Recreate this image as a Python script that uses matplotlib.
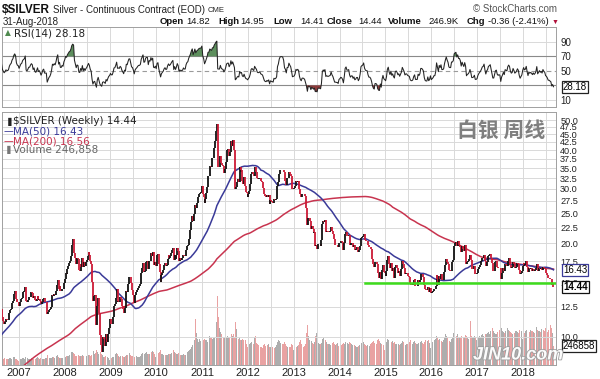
import numpy as np
import pandas as pd
import matplotlib
matplotlib.use("Agg")
import matplotlib.pyplot as plt
import matplotlib.dates as mdates
import matplotlib.patheffects as pe

plt.rcParams['font.family'] = ['Liberation Sans', 'DejaVu Sans']

# weekly closes (Friday), one list per calendar year
c2003 = [4.82, 4.78, 4.88, 4.80, 4.72, 4.62, 4.60, 4.65, 4.58, 4.50, 4.45, 4.40, 4.42,
         4.50, 4.55, 4.62, 4.60, 4.75, 4.80, 4.62, 4.52, 4.55, 4.48, 4.60, 4.55, 4.52,
         4.62, 4.85, 5.00, 5.15, 5.05, 4.98, 5.10, 5.20, 5.05, 4.95, 5.15, 5.05, 5.10,
         5.02, 4.95, 5.00, 5.10, 5.12, 5.20, 5.25, 5.35, 5.45, 5.60, 5.75, 5.85, 5.95]
c2004 = [6.20, 6.35, 6.28, 6.30, 6.38, 6.55, 6.70, 6.85, 7.15, 7.30, 7.40, 7.55, 7.90,
         8.10, 7.60, 7.05, 6.50, 6.15, 5.80, 5.95, 6.05, 6.10, 5.95, 5.90, 6.05, 5.92,
         6.20, 6.45, 6.60, 6.55, 6.65, 6.80, 6.72, 6.60, 6.45, 6.35, 6.50, 6.30, 6.90,
         7.10, 7.25, 7.15, 7.25, 7.40, 7.45, 7.60, 7.55, 7.35, 6.90, 6.80, 6.75, 6.80, 6.82]
c2005 = [6.60, 6.50, 6.70, 6.65, 6.80, 7.00, 7.35, 7.30, 7.45, 7.25, 7.15, 7.10, 7.10,
         7.00, 7.05, 6.95, 7.05, 6.90, 7.10, 7.15, 7.35, 7.40, 7.35, 7.30, 7.25, 7.05,
         7.05, 6.95, 7.10, 7.15, 7.00, 6.95, 6.85, 6.80, 6.90, 7.05, 7.20, 7.35, 7.45,
         7.55, 7.60, 7.65, 7.70, 7.75, 7.85, 8.10, 8.30, 8.45, 8.60, 8.80, 8.70, 8.90]
c2006 = [9.15, 9.30, 9.65, 9.80, 9.70, 9.55, 9.40, 9.75, 9.90, 10.20, 10.60, 10.55, 11.40,
         11.80, 12.60, 13.50, 13.40, 13.60, 14.30, 13.60, 12.60, 12.40, 11.40, 10.80, 10.60, 10.85,
         11.40, 11.70, 11.20, 11.05, 11.30, 12.10, 12.30, 11.55, 11.25, 11.00, 11.15, 11.40, 11.35,
         11.30, 11.45, 11.90, 12.15, 12.30, 12.80, 13.05, 13.70, 14.05, 13.90, 13.20, 12.95, 12.90]
c2007 = [12.60, 12.90, 13.20, 13.30, 13.70, 13.90, 14.00, 14.50, 13.00, 12.90, 13.10, 13.40, 13.40,
         13.70, 13.90, 13.80, 13.30, 13.50, 13.10, 13.00, 13.20, 13.50, 13.10, 13.20, 13.00, 12.70,
         12.90, 13.20, 13.30, 12.90, 12.90, 12.90, 11.80, 12.00, 12.20, 12.30, 12.50, 12.90, 13.60,
         13.50, 13.70, 13.60, 14.00, 14.70, 15.20, 14.30, 14.60, 14.00, 14.00, 14.30, 14.20, 14.90]
c2008 = [15.30, 16.00, 15.90, 16.50, 16.90, 17.30, 17.50, 18.20, 19.80, 20.70, 20.60, 18.60, 17.90,
         17.20, 17.90, 17.80, 16.40, 16.30, 17.20, 16.80, 18.00, 16.80, 17.40, 16.90, 17.40, 17.70,
         18.20, 18.80, 18.40, 17.60, 17.20, 15.00, 13.00, 13.50, 13.60, 12.30, 10.90, 12.60, 13.30,
         11.90, 10.10, 9.40, 8.90, 9.90, 10.00, 9.80, 9.30, 10.20, 9.60, 10.20, 10.70, 10.90]
c2009 = [11.40, 11.00, 11.00, 11.60, 12.60, 12.70, 13.30, 14.20, 12.90, 13.00, 12.90, 13.40, 13.20,
         12.60, 12.30, 11.90, 12.60, 12.40, 14.00, 13.90, 14.80, 15.60, 15.60, 14.90, 14.20, 14.10,
         13.60, 12.80, 13.60, 13.90, 14.10, 14.40, 14.60, 14.60, 14.80, 16.00, 16.60, 17.30, 16.20,
         16.30, 17.40, 17.60, 17.60, 16.50, 17.60, 17.50, 18.60, 18.20, 18.80, 17.10, 17.00, 17.40]
c2010 = [16.90, 18.30, 18.50, 17.20, 16.20, 15.00, 15.80, 16.10, 16.40, 17.00, 17.30, 16.90, 17.00,
         17.80, 18.30, 18.00, 18.20, 18.60, 19.00, 19.30, 17.70, 18.40, 17.80, 18.40, 19.30, 18.90,
         17.60, 18.00, 17.70, 17.90, 17.90, 18.40, 18.20, 18.20, 19.10, 19.60, 19.80, 20.70, 21.40,
         22.10, 23.40, 24.50, 23.60, 24.80, 26.70, 26.00, 27.10, 27.50, 28.30, 28.90, 29.00, 29.20, 30.60]
c2011 = [28.80, 28.20, 27.00, 27.80, 29.00, 30.30, 32.90, 33.00, 35.60, 35.40, 35.30, 37.60, 37.60,
         40.60, 42.80, 46.10, 48.60, 35.30, 35.20, 35.20, 38.20, 36.30, 35.70, 35.50, 33.80, 34.70,
         36.60, 39.40, 40.10, 40.20, 38.30, 39.50, 42.90, 41.10, 43.00, 41.60, 39.90, 29.90, 30.50,
         31.60, 32.20, 31.60, 35.30, 34.10, 34.50, 31.90, 31.20, 32.70, 30.60, 29.20, 29.00, 28.20]
c2012 = [28.90, 29.50, 31.00, 33.60, 34.10, 33.50, 33.10, 35.40, 34.60, 34.00, 32.60, 32.30, 32.50,
         32.60, 31.80, 31.60, 31.30, 30.20, 28.90, 28.40, 28.30, 28.60, 28.30, 28.60, 26.90, 27.60,
         27.40, 27.30, 27.10, 27.90, 27.70, 27.80, 28.10, 30.60, 31.50, 33.40, 34.50, 34.60, 34.60,
         34.50, 33.90, 32.20, 31.80, 30.80, 32.40, 32.40, 33.90, 33.40, 33.00, 31.80, 29.90, 30.00]
c2013 = [30.10, 30.60, 31.90, 31.60, 31.90, 31.60, 29.90, 28.80, 28.30, 28.90, 28.90, 28.80, 28.40,
         27.30, 26.00, 23.00, 24.10, 24.10, 23.70, 22.20, 22.70, 22.20, 21.60, 21.80, 19.60, 19.70,
         19.20, 19.90, 19.90, 19.90, 19.60, 20.50, 23.10, 23.70, 23.40, 23.80, 21.70, 21.90, 21.70,
         21.70, 21.80, 21.90, 22.60, 21.90, 21.50, 20.70, 19.80, 19.80, 19.70, 19.70, 19.40, 20.00]
c2014 = [20.10, 20.30, 20.20, 19.90, 19.10, 20.00, 21.50, 21.80, 21.20, 21.20, 21.30, 20.30, 19.80,
         20.00, 20.00, 19.50, 19.70, 19.10, 19.20, 19.40, 19.40, 18.80, 19.00, 19.60, 20.80, 21.00,
         21.10, 21.50, 20.80, 20.50, 20.40, 20.40, 19.80, 19.40, 19.40, 19.20, 18.70, 17.80, 17.10,
         16.80, 17.40, 17.40, 17.20, 16.10, 15.60, 15.50, 16.20, 15.30, 16.40, 17.00, 16.20, 16.00]
c2015 = [15.70, 16.30, 17.70, 18.20, 17.20, 16.60, 17.30, 16.30, 16.60, 15.90, 15.50, 16.80, 17.00,
         16.70, 16.10, 16.30, 15.70, 16.10, 16.50, 17.50, 17.10, 16.70, 15.90, 16.10, 16.10, 15.80,
         15.70, 15.60, 14.90, 14.70, 14.70, 14.80, 15.20, 15.40, 14.60, 14.60, 14.60, 15.20, 15.00,
         15.20, 15.90, 15.90, 15.80, 15.60, 14.70, 14.20, 14.10, 14.10, 14.50, 13.90, 14.00, 14.40]
c2016 = [13.80, 13.90, 14.00, 14.20, 14.20, 14.60, 15.80, 15.30, 14.70, 15.70, 15.40, 15.90, 15.20,
         15.20, 15.30, 16.20, 17.00, 17.80, 17.40, 17.10, 16.40, 16.30, 16.30, 17.40, 17.40, 17.70,
         19.60, 20.00, 20.20, 19.60, 20.30, 19.80, 19.80, 19.50, 18.70, 19.60, 19.20, 18.90, 19.80,
         19.20, 17.10, 17.40, 17.50, 17.80, 18.40, 17.70, 16.50, 16.50, 16.60, 16.90, 15.90, 15.90, 16.00]
c2017 = [16.50, 16.80, 17.00, 17.20, 17.50, 17.90, 18.00, 18.40, 17.60, 16.90, 17.40, 17.60, 18.20,
         18.30, 18.50, 17.90, 17.30, 16.30, 16.30, 16.80, 17.40, 17.50, 16.80, 16.60, 16.70, 16.60,
         15.40, 16.00, 16.30, 16.70, 16.30, 17.10, 17.00, 16.90, 17.60, 17.90, 17.70, 17.00, 16.70,
         16.80, 17.40, 17.10, 16.70, 16.80, 17.00, 17.30, 17.10, 16.40, 15.90, 16.10, 16.30, 16.90]
c2018 = [17.30, 17.00, 17.10, 17.50, 16.80, 16.20, 16.70, 16.50, 16.60, 16.50, 16.30, 16.50, 16.30,
         16.40, 16.60, 17.20, 16.30, 16.50, 16.70, 16.50, 16.60, 16.40, 16.80, 16.60, 16.50, 16.10,
         16.00, 15.80, 15.50, 15.50, 15.40, 15.30, 14.70, 14.80, 14.44]

# weekly volume in thousands, 25-Aug-2006 .. 31-Aug-2018
v2006 = [75, 82, 90, 70, 88, 76, 80, 72, 95, 85, 78, 92, 88, 105, 98, 80, 76, 60, 55]
v2007 = [70, 85, 80, 78, 88, 92, 80, 110, 130, 95, 85, 82, 75, 78, 90, 86, 80, 92, 84, 76,
         88, 98, 90, 82, 85, 78, 72, 80, 84, 76, 86, 92, 125, 110, 90, 85, 88, 95, 100, 98,
         92, 105, 110, 120, 135, 110, 95, 88, 90, 85, 70, 60]
v2008 = [95, 110, 120, 115, 118, 125, 130, 140, 165, 175, 160, 150, 120, 115, 125, 118, 130, 115, 112, 120,
         125, 118, 110, 115, 108, 112, 120, 130, 125, 118, 128, 175, 210, 180, 150, 160, 190, 175, 140, 150,
         160, 170, 150, 130, 110, 105, 115, 100, 108, 102, 95, 70]
v2009 = [80, 95, 105, 110, 120, 125, 140, 160, 150, 120, 110, 115, 118, 105, 112, 100, 108, 115, 125, 130,
         140, 150, 160, 135, 120, 115, 105, 100, 110, 115, 120, 110, 105, 108, 112, 140, 155, 165, 150, 140,
         160, 165, 150, 145, 140, 150, 165, 170, 180, 175, 140, 100]
v2010 = [100, 150, 160, 155, 165, 190, 150, 140, 130, 135, 140, 130, 125, 130, 145, 150, 140, 155, 160, 170,
         190, 175, 160, 150, 145, 160, 150, 140, 130, 125, 130, 140, 135, 130, 145, 160, 170, 180, 195, 210,
         240, 260, 250, 245, 330, 600, 420, 340, 300, 340, 310, 280, 220]
v2011 = [300, 320, 340, 330, 320, 300, 340, 360, 380, 350, 360, 340, 350, 360, 400, 460, 560, 900, 620, 480,
         430, 400, 380, 360, 370, 350, 340, 360, 380, 370, 350, 360, 420, 410, 380, 400, 370, 560, 470, 380,
         350, 340, 360, 330, 320, 340, 320, 300, 310, 320, 280, 240]
v2012 = [260, 280, 290, 300, 320, 280, 270, 360, 380, 290, 270, 260, 240, 250, 240, 230, 220, 260, 280, 250,
         240, 250, 260, 270, 240, 230, 220, 230, 250, 240, 220, 230, 260, 300, 320, 310, 290, 280, 260, 270,
         280, 300, 270, 250, 240, 260, 250, 240, 230, 280, 260, 200]
v2013 = [230, 250, 260, 240, 250, 260, 300, 320, 280, 260, 250, 240, 250, 280, 420, 520, 380, 330, 300, 320,
         310, 290, 280, 300, 380, 420, 330, 300, 290, 280, 270, 290, 340, 360, 330, 310, 330, 300, 280, 270,
         280, 260, 270, 280, 290, 300, 270, 260, 280, 290, 250, 200]
v2014 = [250, 270, 260, 280, 290, 280, 300, 320, 310, 290, 280, 300, 290, 270, 260, 250, 240, 260, 250, 240,
         230, 250, 260, 280, 300, 290, 280, 300, 270, 260, 250, 260, 240, 230, 250, 270, 290, 300, 310, 290,
         300, 280, 270, 320, 340, 310, 290, 270, 300, 310, 260, 200]
v2015 = [260, 300, 340, 320, 300, 290, 280, 300, 310, 290, 300, 280, 270, 260, 280, 270, 260, 270, 290, 310,
         300, 280, 270, 260, 270, 280, 290, 300, 320, 300, 290, 280, 300, 310, 290, 280, 270, 290, 300, 280,
         300, 310, 290, 280, 300, 320, 330, 300, 310, 320, 290, 220]
v2016 = [240, 300, 320, 310, 330, 340, 380, 360, 330, 340, 320, 330, 310, 300, 320, 360, 400, 380, 350, 330,
         320, 310, 300, 340, 360, 420, 520, 480, 420, 380, 400, 370, 360, 350, 380, 360, 340, 370, 360, 390,
         380, 350, 340, 360, 400, 580, 380, 350, 360, 380, 370, 330, 250]
v2017 = [330, 360, 380, 370, 390, 400, 380, 420, 440, 410, 400, 420, 430, 410, 440, 460, 430, 480, 450, 420,
         410, 400, 430, 420, 440, 460, 560, 480, 450, 430, 420, 440, 460, 450, 480, 460, 440, 430, 420, 410,
         440, 430, 420, 440, 450, 430, 420, 460, 480, 470, 450, 340]
v2018 = [380, 420, 440, 460, 480, 520, 440, 430, 460, 440, 450, 430, 420, 410, 440, 500, 460, 450, 440, 430,
         470, 450, 430, 460, 440, 480, 420, 430, 460, 440, 450, 520, 480, 420, 247]

price_ticks = [10.0, 12.5, 15.0, 17.5, 20.0, 22.5, 25.0, 27.5, 30.0, 32.5, 35.0,
               37.5, 40.0, 42.5, 45.0, 47.5, 50.0]
rsi_ticks = [10, 50, 70, 90]
year_labels = list(range(2007, 2019))

support_level = 14.9
support_start = '2014-07-20'
support_end = '2018-09-18'

last_close = 14.44
last_rsi = 28.18
last_ma50 = 16.43
last_ma200 = 16.56
last_volume = 246858

# ---- build series
years = list(range(2003, 2019))
close_lists = [c2003, c2004, c2005, c2006, c2007, c2008, c2009, c2010,
               c2011, c2012, c2013, c2014, c2015, c2016, c2017, c2018]
dates, closes = [], []
for y, lst in zip(years, close_lists):
    d = pd.date_range(f'{y}-01-01', periods=len(lst), freq='W-FRI')
    dates.extend(d)
    closes.extend(lst)
s = pd.Series(closes, index=pd.DatetimeIndex(dates))
ma50 = s.rolling(50).mean()
ma200 = s.rolling(200).mean()
delta = s.diff()
gain = delta.clip(lower=0).ewm(alpha=1 / 14, adjust=False).mean()
loss = (-delta.clip(upper=0)).ewm(alpha=1 / 14, adjust=False).mean()
rsi = 100 - 100 / (1 + gain / loss)

vol = v2006 + v2007 + v2008 + v2009 + v2010 + v2011 + v2012 + v2013 + v2014 + v2015 + v2016 + v2017 + v2018
vdates = pd.date_range(end='2018-08-31', periods=len(vol), freq='W-FRI')

t0 = pd.Timestamp('2006-08-22')
t1 = pd.Timestamp('2018-09-20')
win = s.index >= pd.Timestamp('2006-08-01')

W, H = 600, 379
fig = plt.figure(figsize=(6, 3.79), dpi=100)
fig.patch.set_facecolor('white')


def box(x0, y0, x1, y1):
    return [x0 / W, 1 - y1 / H, (x1 - x0) / W, (y1 - y0) / H]


def ft(x, y, txt, **kw):
    kw.setdefault('va', 'center')
    fig.text(x / W, 1 - y / H, txt, **kw)


def tag(axis, val, txt, ec, fw='normal'):
    axis.annotate(txt, xy=(1, val), xycoords=('axes fraction', 'data'),
                  xytext=(5, 0), textcoords='offset points', ha='left', va='center',
                  fontsize=7, fontweight=fw,
                  bbox=dict(boxstyle='square,pad=0.12', fc='white', ec=ec, lw=0.9),
                  annotation_clip=False, zorder=10)


grid_c = '#d9d9d9'
spine_c = '#a0a0a0'

# ---- RSI panel
ar = fig.add_axes(box(2, 27, 556, 107))
ar.set_xlim(t0, t1)
ar.set_ylim(0.4, 110.2)
rw = rsi[win]
ar.plot(rw.index, rw.values, color='#222222', lw=0.75, zorder=3)
ar.fill_between(rw.index, 70, rw.values, where=rw.values > 70, color='#5d8f5d', lw=0, interpolate=True, zorder=2)
ar.fill_between(rw.index, 30, rw.values, where=rw.values < 30, color='#8e3b3b', lw=0, interpolate=True, zorder=2)
for lvl in (10, 90):
    ar.axhline(lvl, color=grid_c, lw=0.7, zorder=0)
for lvl in (30, 70):
    ar.axhline(lvl, color='#8a8a8a', lw=0.8, zorder=1)
ar.axhline(50, color='#9a9a9a', lw=0.8, ls=(0, (4, 3)), zorder=1)
ar.yaxis.tick_right()
ar.set_yticks(rsi_ticks)
ar.set_yticklabels([str(v) for v in rsi_ticks])
ar.tick_params(axis='y', length=0, pad=3, labelsize=7, colors='#222222')
ar.xaxis.set_major_locator(mdates.YearLocator())
ar.xaxis.set_minor_locator(mdates.MonthLocator(bymonth=7))
ar.tick_params(axis='x', which='both', length=0, labelbottom=False)
ar.grid(True, axis='x', which='both', color=grid_c, lw=0.7)
ar.set_axisbelow(True)
for sp in ar.spines.values():
    sp.set_color(spine_c)
    sp.set_linewidth(0.7)
tag(ar, last_rsi, f'{last_rsi:.2f}', '#222222')

# ---- price panel
ax = fig.add_axes(box(2, 112, 556, 365))
vax = ax.twinx()
ax.set_zorder(vax.get_zorder() + 1)
ax.patch.set_visible(False)

vs = pd.Series(vol, index=vdates)
chg = s.reindex(vdates) - s.shift(1).reindex(vdates)
vcols = np.where(chg.values < 0, '#e9a2a2', '#adadad')
vax.bar(vdates, vs.values, width=6, color=vcols, lw=0, align='center')
vax.set_ylim(0, 3300)
vax.set_yticks([])
for sp in vax.spines.values():
    sp.set_visible(False)
tag(vax, last_volume / 1000, f'{last_volume}', '#222222')

sw = s[win]
prev = s.shift(1)[win]
lo = np.minimum(sw.values, prev.values)
hi = np.maximum(sw.values, prev.values)
cols = np.where(sw.values < prev.values, '#cc1a36', '#111111')
ax.vlines(sw.index, lo, hi, colors=cols, lw=1.3, zorder=4)
ax.plot(ma200[win].index, ma200[win].values, color='#c8344f', lw=1.1, zorder=3)
ax.plot(ma50[win].index, ma50[win].values, color='#3a3a98', lw=1.1, zorder=3)
ax.plot([pd.Timestamp(support_start), pd.Timestamp(support_end)], [support_level, support_level],
        color='#3ddc1c', lw=1.8, zorder=5)

ax.set_yscale('log')
ax.set_ylim(8.10, 53.1)
ax.set_xlim(t0, t1)
ax.yaxis.tick_right()
ax.set_yticks(price_ticks)
ax.set_yticklabels([f'{v:.1f}' for v in price_ticks])
ax.yaxis.set_minor_locator(matplotlib.ticker.NullLocator())
ax.tick_params(axis='y', length=0, pad=3, labelsize=6.6, colors='#222222')
ax.set_xticks([pd.Timestamp(f'{y}-01-01') for y in year_labels])
ax.set_xticklabels([str(y) for y in year_labels])
ax.xaxis.set_minor_locator(mdates.MonthLocator(bymonth=7))
ax.tick_params(axis='x', which='both', length=0, pad=2, labelsize=8, colors='#222222')
ax.grid(True, axis='both', which='major', color=grid_c, lw=0.7, zorder=0)
ax.grid(True, axis='x', which='minor', color=grid_c, lw=0.7, zorder=0)
for sp in ax.spines.values():
    sp.set_color(spine_c)
    sp.set_linewidth(0.7)

tag(ax, last_ma50, f'{last_ma50:.2f}', '#3a3a98')
tag(ax, last_close, f'{last_close:.2f}', '#111111', 'bold')

# ---- header texts
ft(2, 10, '$SILVER', fontsize=8.5, fontweight='bold', color='#111111')
ft(53, 10, 'Silver - Continuous Contract (EOD)', fontsize=7, color='#222222')
ft(208, 10, 'CME', fontsize=5.5, color='#222222')
ft(557, 9, '\u00a9 StockCharts.com', fontsize=7, color='#555555', ha='right')
ft(3, 22, '31-Aug-2018', fontsize=7, color='#222222')
for x, txt, bold in [(160, 'Open', True), (186, '14.82', False), (218, 'High', True), (240, '14.95', False),
                     (273, 'Low', True), (300, '14.41', False), (327, 'Close', True), (358, '14.44', False),
                     (388, 'Volume', True), (428, '246.9K', False), (467, 'Chg', True),
                     (488, '-0.36 (-2.41%)', False)]:
    ft(x, 22, txt, fontsize=6.8, fontweight='bold' if bold else 'normal', color='#111111')
ft(552, 22, '\u25bc', fontsize=5, color='#b0103a')

# panel legends
ft(5, 33, '\u25b2', fontsize=5.5, color='#4f8a4f', family='DejaVu Sans')
ft(14, 33, f'RSI(14) {last_rsi:.2f}', fontsize=7.5, color='#222222', family='DejaVu Sans')
ft(5, 121, '\u2590', fontsize=6, color='#222222', family='DejaVu Sans')
ft(13, 121, f'$SILVER (Weekly) {last_close:.2f}', fontsize=7.5, color='#222222', family='DejaVu Sans')
ft(4, 131, '\u2014', fontsize=7, color='#3a3a98', family='DejaVu Sans')
ft(13, 131, f'MA(50) {last_ma50:.2f}', fontsize=7.5, color='#3a3a98', family='DejaVu Sans')
ft(4, 141, '\u2014', fontsize=7, color='#c8344f', family='DejaVu Sans')
ft(13, 141, f'MA(200) {last_ma200:.2f}', fontsize=7.5, color='#c8344f', family='DejaVu Sans')
ft(4, 150, '\u2590', fontsize=6, color='#777777', family='DejaVu Sans')
ft(13, 150, f'Volume {last_volume:,}', fontsize=7.5, color='#666666', family='DejaVu Sans')

ft(501, 130, '白银 周线', fontsize=15, fontweight='bold', color='#7f7f7f', ha='center',
   family=['Noto Sans CJK SC', 'DejaVu Sans'])
ft(518, 355, 'JIN10.com', fontsize=13, fontweight='bold', style='italic', color='white', ha='center',
   alpha=0.95, path_effects=[pe.withStroke(linewidth=1.2, foreground='#9a9a9a')])

fig.savefig('out.png', dpi=100, facecolor='white')
